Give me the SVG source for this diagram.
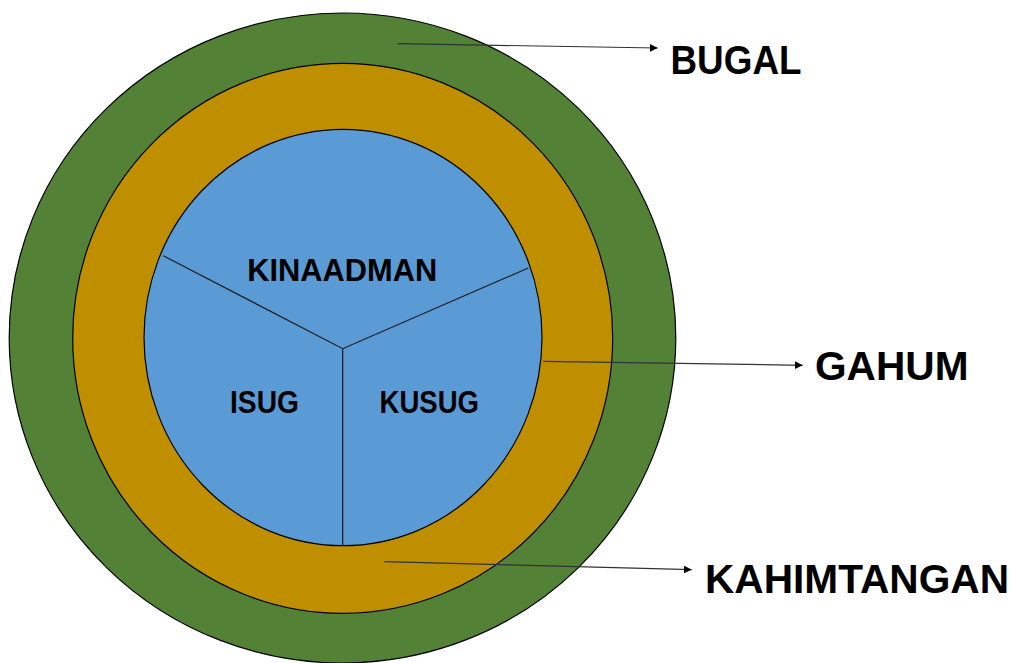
<svg xmlns="http://www.w3.org/2000/svg" width="1012" height="663" viewBox="0 0 1012 663">
<style>
.ring{stroke:#000;stroke-width:1.2}
.div{stroke:#1a1a1a;stroke-width:1.2;fill:none}
.conn{stroke:#333;stroke-width:1.2;fill:none;marker-end:url(#arr)}
.lbl{font-family:"Liberation Sans",Arial,sans-serif;font-weight:bold;fill:#000}
.out{font-size:40px}
.in{font-size:32px}
</style>
<defs>
<marker id="arr" viewBox="0 0 10 10" refX="10" refY="5" markerWidth="8" markerHeight="8" markerUnits="userSpaceOnUse" orient="auto">
<path d="M0,0 L10,5 L0,10 z" fill="#000"/>
</marker>
</defs>
<rect width="1012" height="663" fill="#fff"/>
<g id="bugal"><ellipse class="ring" cx="342.5" cy="338" rx="333.3" ry="325" fill="#538135"/></g>
<g id="gahum"><ellipse class="ring" cx="342.7" cy="338.3" rx="270" ry="275" fill="#BF8F00"/></g>
<g id="core">
<ellipse class="ring" cx="343" cy="337.5" rx="199" ry="208.2" fill="#5B9BD5"/>
<path class="div" d="M163.3,255.7 L342.7,348.7 L528.3,268 M342.7,348.7 L342.7,545.7"/>
</g>
<g id="kinaadman"><text class="lbl in" x="247.3" y="281" textLength="190" lengthAdjust="spacingAndGlyphs">KINAADMAN</text></g>
<g id="isug"><text class="lbl in" x="230" y="412.5" textLength="69" lengthAdjust="spacingAndGlyphs">ISUG</text></g>
<g id="kusug"><text class="lbl in" x="379.5" y="413" textLength="99.5" lengthAdjust="spacingAndGlyphs">KUSUG</text></g>
<g id="connectors">
<path class="conn" d="M397.7,43.7 L657.7,48"/>
<path class="conn" d="M543.3,361.3 L802.7,365.3"/>
<path class="conn" d="M384.3,561.7 L691.7,569.7"/>
</g>
<g id="label-bugal"><text class="lbl out" x="670.5" y="73.5" textLength="131" lengthAdjust="spacingAndGlyphs">BUGAL</text></g>
<g id="label-gahum"><text class="lbl out" x="815" y="380" textLength="153.5" lengthAdjust="spacingAndGlyphs">GAHUM</text></g>
<g id="label-kahimtangan"><text class="lbl out" x="705" y="593.3" textLength="304" lengthAdjust="spacingAndGlyphs">KAHIMTANGAN</text></g>
</svg>
